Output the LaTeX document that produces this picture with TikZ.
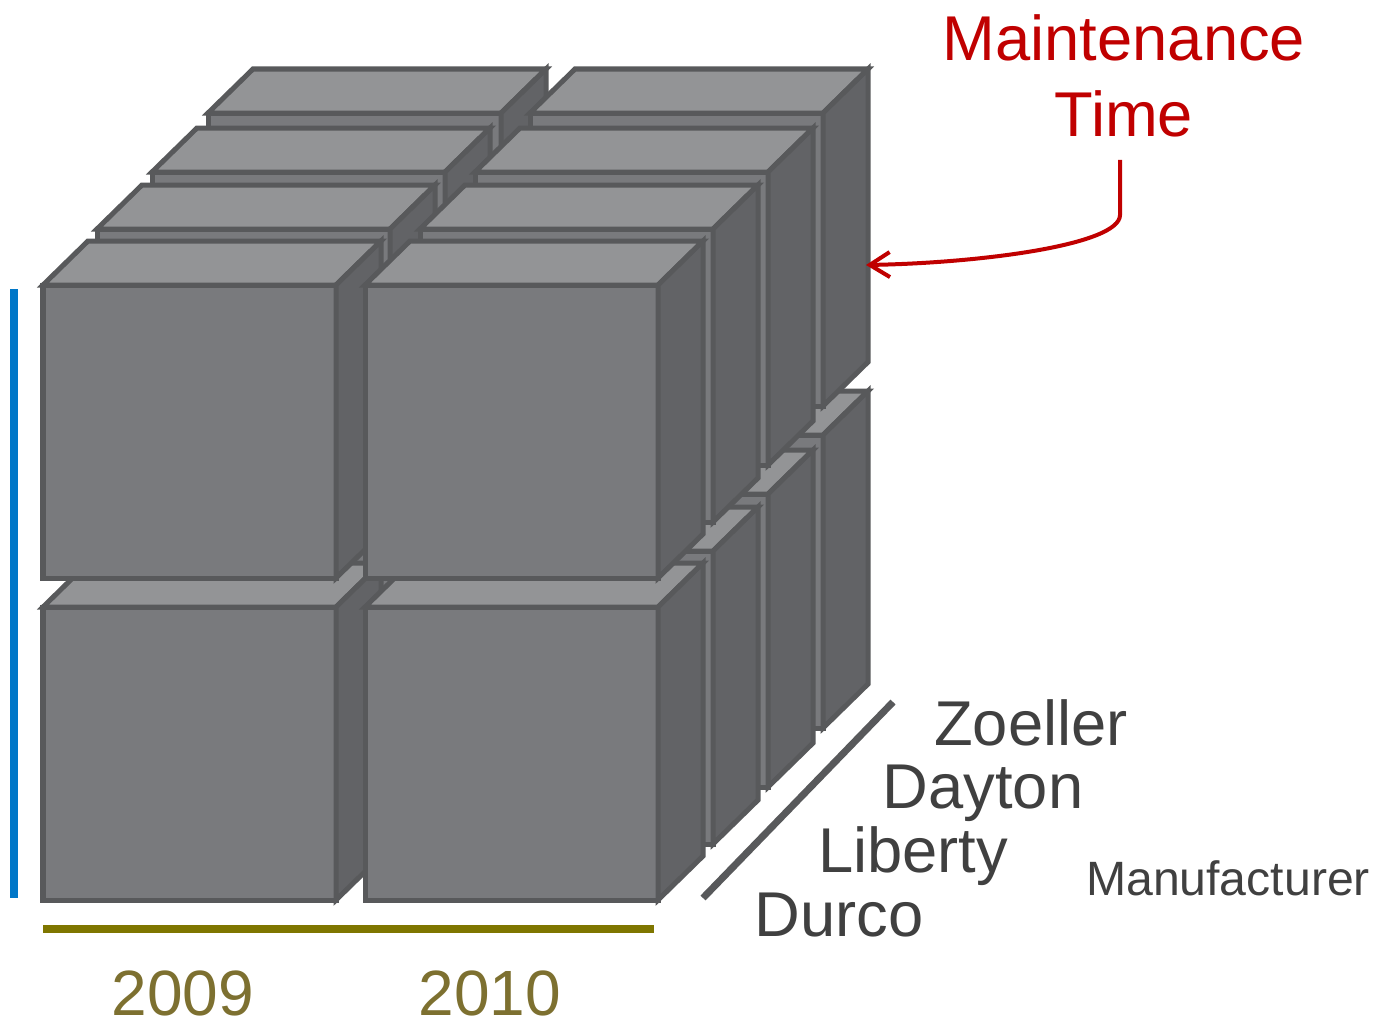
\documentclass[tikz,border=0pt]{standalone}
\usepackage{fontspec}
\usetikzlibrary{arrows.meta}
\setmainfont{Liberation Sans}
\definecolor{cubefront}{HTML}{797A7D}
\definecolor{cubetop}{HTML}{939496}
\definecolor{cubeside}{HTML}{626366}
\definecolor{cubeline}{HTML}{58595B}
\definecolor{axisblue}{HTML}{0077C8}
\definecolor{axisolive}{HTML}{7F7600}
\definecolor{yearolive}{HTML}{7D7030}
\definecolor{labelgray}{HTML}{404040}
\definecolor{timered}{HTML}{C00000}
\tikzset{
  cubeface/.style={draw=cubeline, line width=0.05cm},
  makerlabel/.style={anchor=base, text=labelgray, font=\fontsize{18}{18}\selectfont, inner sep=0pt},
  yearlabel/.style={anchor=base, text=yearolive, font=\fontsize{18.2}{18}\selectfont, inner sep=0pt},
  timelabel/.style={align=center, text=timered, font=\fontsize{18}{21.6}\selectfont, inner sep=0pt},
  axisbar/.style={line width=0.08cm}
}
\newcommand{\drawcube}[2]{%
  \draw [cubeface, fill=cubefront] (#1,#2) rectangle ++(293,293);%
  \draw [cubeface, fill=cubetop] (#1,#2) -- ++(45,-44) -- ++(293,0) -- ++(-45,44) -- cycle;%
  \draw [cubeface, fill=cubeside] (#1+293,#2) -- ++(45,-44) -- ++(0,293) -- ++(-45,44) -- cycle;%
}
\begin{document}
\begin{tikzpicture}[x=0.01cm, y=-0.01cm]
  \useasboundingbox (0,0) rectangle (1392,1021);

  % Drawing back layer (Zoeller)
  \drawcube{208}{435}%
  \drawcube{208}{113}%
  \drawcube{530}{435}%
  \drawcube{530}{113}%

  % Drawing third layer (Dayton)
  \drawcube{152}{494}%
  \drawcube{152}{172}%
  \drawcube{475}{494}%
  \drawcube{475}{172}%

  % Drawing second layer (Liberty)
  \drawcube{97}{551}%
  \drawcube{97}{229}%
  \drawcube{420}{551}%
  \drawcube{420}{229}%

  % Drawing front layer (Durco)
  \drawcube{43}{607}%
  \drawcube{43}{285}%
  \drawcube{365}{607}%
  \drawcube{365}{285}%

  % Drawing vertical bar
  \draw [axisbar, draw=axisblue] (14,289) -- (14,898);%

  % Drawing year bar
  \draw [axisbar, draw=axisolive] (43,929) -- (654,929);%

  % Drawing manufacturer bar
  \draw [line width=0.07cm, draw=cubeline] (703,898) -- (893,702);%

  % Marking years
  \node [yearlabel] (year2009) at (183,1015) {2009};%
  \node [yearlabel] (year2010) at (490,1015) {2010};%

  % Marking manufacturers
  \node [makerlabel] (zoeller) at (1031,745) {Zoeller};%
  \node [makerlabel] (dayton) at (983,808) {Dayton};%
  \node [makerlabel] (liberty) at (913,872) {Liberty};%
  \node [makerlabel] (durco) at (839,936) {Durco};%
  \node [makerlabel, font=\fontsize{13.7}{14}\selectfont] (manufacturer) at (1228,895) {Manufacturer};%

  % Marking measure and its arrow
  \node [timelabel] (mainttime) at (1124,76) {Maintenance\\Time};%
  \coordinate (cubeedge) at (866,265);%
  \draw [line width=0.04cm, draw=timered, -{Straight Barb[length=0.2cm, width=0.25cm]}] (mainttime.south) ++(-4,22) -- (1120,215) .. controls (1120,245) and (980,263) .. (cubeedge);%
\end{tikzpicture}
\end{document}
